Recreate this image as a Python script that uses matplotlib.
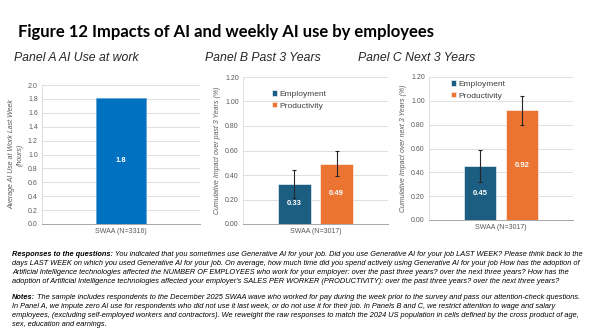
import matplotlib
matplotlib.use("Agg")
import matplotlib.pyplot as plt
from matplotlib.ticker import FormatStrFormatter, MultipleLocator

# Data
use_label = ["SWAA (N=3316)"]
use_hours = [1.82]

impact_label = ["SWAA (N=3017)"]
series = ["Employment", "Productivity"]
past_vals = [0.33, 0.49]
past_lo = [0.215, 0.39]
past_hi = [0.443, 0.597]
next_vals = [0.45, 0.92]
next_lo = [0.321, 0.797]
next_hi = [0.587, 1.043]

BLUE = "#0070C0"
EMP = "#1B5E82"
PROD = "#EC7432"
GRID = "#D9D9D9"
TICK = "#595959"

responses = [
    ("Responses to the questions:",
     " You indicated that you sometimes use Generative AI for your job. Did you use Generative AI for your job LAST WEEK? Please think back to the"),
    ("", "days LAST WEEK on which you used Generative AI for your job. On average, how much time did you spend actively using Generative AI for your job How has the adoption of"),
    ("", "Artificial Intelligence technologies affected the NUMBER OF EMPLOYEES who work for your employer: over the past three years? over the next three years? How has the"),
    ("", "adoption of Artificial Intelligence technologies affected your employer's SALES PER WORKER (PRODUCTIVITY): over the past three years? over the next three years?"),
]
notes = [
    ("Notes:",
     " The sample includes respondents to the December 2025 SWAA wave who worked for pay during the week prior to the survey and pass our attention-check questions."),
    ("", "In Panel A, we impute zero AI use for respondents who did not use it last week, or do not use it for their job. In Panels B and C, we restrict attention to wage and salary"),
    ("", "employees, (excluding self-employed workers and contractors). We reweight the raw responses to match the 2024 US population in cells defined by the cross product of age,"),
    ("", "sex, education and earnings."),
]

W, H = 590, 330
fig = plt.figure(figsize=(W / 100, H / 100), dpi=100)
plt.rcParams["font.family"] = ["Liberation Sans", "DejaVu Sans"]


def box(l, r, t, b):
    # pixel box -> figure fraction
    return [l / W, 1 - b / H, (r - l) / W, (b - t) / H]


def style(ax, ymax, step, fmt, ylabel):
    ax.set_ylim(0, ymax)
    ax.yaxis.set_major_locator(MultipleLocator(step))
    ax.yaxis.set_major_formatter(FormatStrFormatter(fmt))
    ax.grid(axis="y", color=GRID, linewidth=0.6)
    ax.set_axisbelow(True)
    for s in ["top", "right"]:
        ax.spines[s].set_visible(False)
    ax.spines["left"].set_color(GRID)
    ax.spines["bottom"].set_color("#A6A6A6")
    ax.spines["left"].set_linewidth(0.6)
    ax.spines["bottom"].set_linewidth(0.7)
    ax.tick_params(length=0, labelsize=5, colors=TICK, pad=3)
    ax.set_xlim(-0.5, 0.5)
    ax.set_xticks([0])
    ax.set_ylabel(ylabel, fontsize=5, style="italic", color=TICK, labelpad=3)


# Panel A
axA = fig.add_axes(box(42, 200, 85, 224))
style(axA, 2.0, 0.2, "%.1f", "Average AI Use at Work Last Week\n(hours)")
axA.bar([0], use_hours, width=0.32, color=BLUE, edgecolor="#5B9BD5", linewidth=0.4)
axA.text(0, use_hours[0] / 2, f"{use_hours[0]:.1f}", color="white", ha="center",
         va="center", fontsize=5.5, fontweight="bold")
axA.set_xticklabels(use_label)


def impact_panel(ax, vals, lo, hi, ylabel, legend_xy):
    style(ax, 1.2, 0.2, "%.2f", ylabel)
    xs = [-0.145, 0.145]
    cols = [EMP, PROD]
    for x, v, l, h, c, name in zip(xs, vals, lo, hi, cols, series):
        ax.bar(x, v, width=0.225, color=c, edgecolor="white", linewidth=0.4, label=name)
        ax.errorbar(x, v, yerr=[[v - l], [h - v]], color="#262626", linewidth=0.8,
                    capsize=1.5, capthick=0.8)
        ax.text(x, v / 2, f"{v:.2f}", color="white", ha="center", va="center",
                fontsize=5.5, fontweight="bold")
    ax.set_xticklabels(impact_label)
    ax.legend(loc="upper left", bbox_to_anchor=legend_xy, frameon=False, fontsize=6,
              handlelength=0.6, handleheight=0.6, handletextpad=0.3, labelspacing=0.5,
              labelcolor="#404040")


axB = fig.add_axes(box(243, 388, 77, 224))
impact_panel(axB, past_vals, past_lo, past_hi,
             "Cumulative Impact over past 3 Years (%)", (0.15, 0.96))

axC = fig.add_axes(box(429, 573, 77, 220))
impact_panel(axC, next_vals, next_lo, next_hi,
             "Cumulative Impact over next 3 Years (%)", (0.1, 1.03))

# Titles
fig.text(18 / W, 1 - 32 / H, "Figure 12 Impacts of AI and weekly AI use by employees",
         fontsize=12, fontweight="bold", family="Lato", va="center")
for x, t in [(14, "Panel A AI Use at work"), (205, "Panel B Past 3 Years"),
             (358, "Panel C Next 3 Years")]:
    fig.text(x / W, 1 - 58 / H, t, fontsize=8.8, style="italic", va="center", color="#262626")

FN = 5.35


def note_block(lines, y0):
    for i, (head, rest) in enumerate(lines):
        y = 1 - (y0 + i * 9) / H
        if head:
            t = fig.text(12 / W, y, head, fontsize=FN, style="italic",
                         fontweight="bold", va="baseline")
            fig.add_artist(plt.Annotation(rest, xy=(1, 0), xycoords=t, fontsize=FN,
                                          style="italic", va="bottom",
                                          annotation_clip=False))
        else:
            fig.text(12 / W, y, rest, fontsize=FN, style="italic", va="baseline")


note_block(responses, 256)
note_block(notes, 299)

fig.savefig("out.png", dpi=100, facecolor="white")
